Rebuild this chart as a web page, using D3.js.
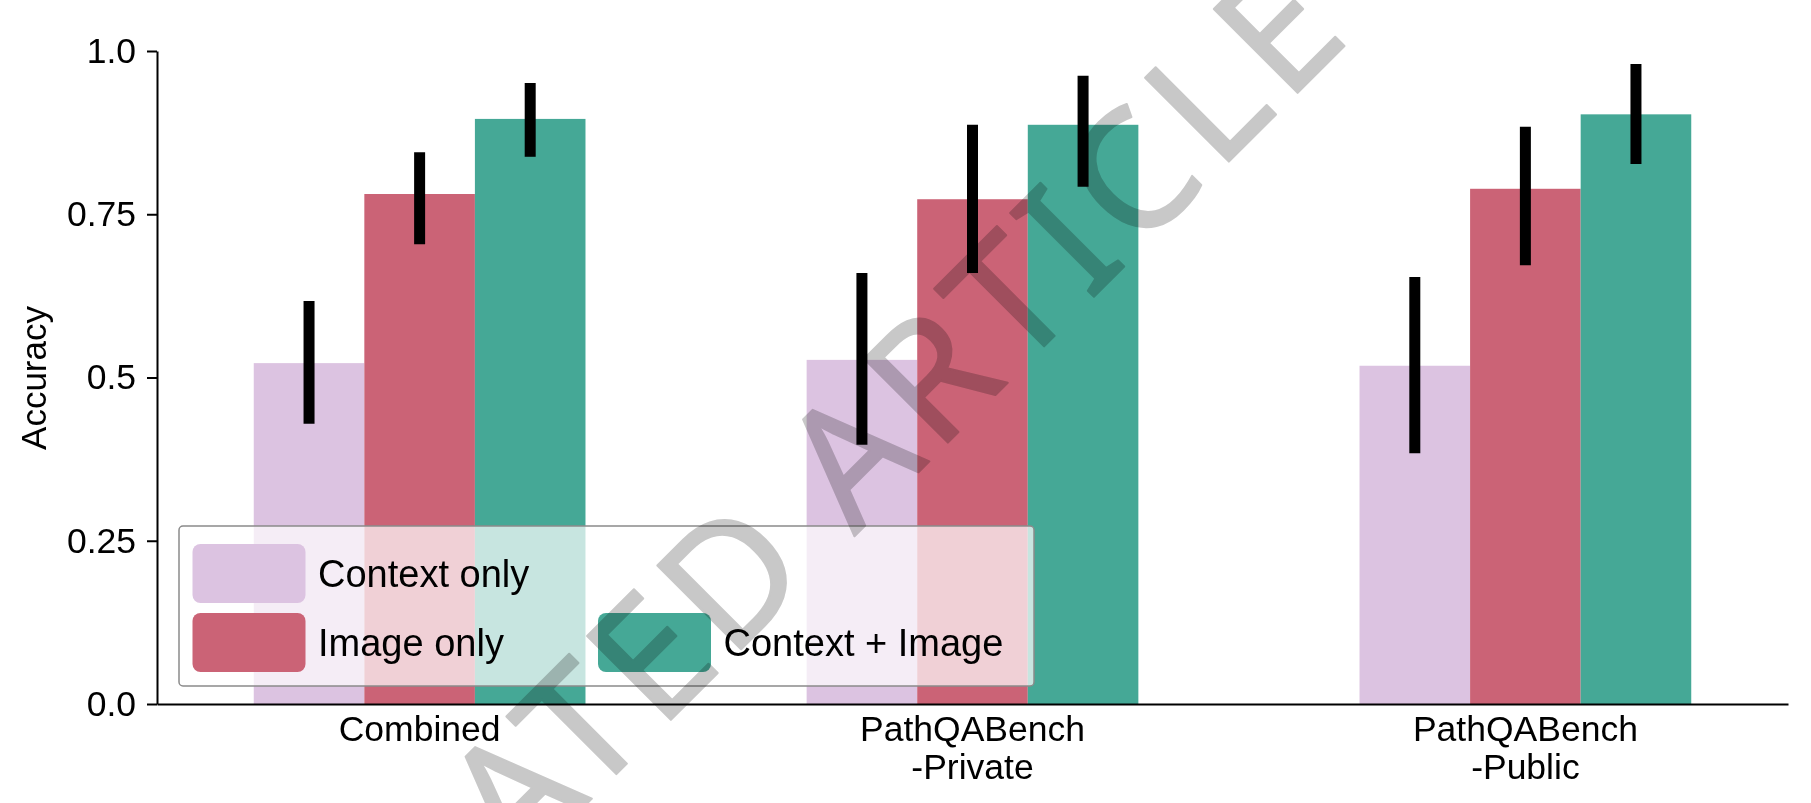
<!DOCTYPE html>
<html><head><meta charset="utf-8">
<script src="https://cdn.jsdelivr.net/npm/d3@7"></script>
<style>
body{margin:0;background:#fff;}
svg{display:block;font-family:"Liberation Sans",Arial,Helvetica,sans-serif;}
</style></head><body>
<svg id="chart" width="1811" height="803"></svg>
<script>
// ---- data ----
const categories = ["Combined", "PathQABench\n-Private", "PathQABench\n-Public"];
const series = ["Context only", "Image only", "Context + Image"];
const seriesColors = ["#dcc3e1", "#cb6376", "#45a896"];
const contextOnly = [0.522, 0.527, 0.518];
const contextOnlyLow = [0.429, 0.397, 0.384];
const contextOnlyHigh = [0.617, 0.660, 0.654];
const imageOnly = [0.781, 0.773, 0.789];
const imageOnlyLow = [0.704, 0.660, 0.672];
const imageOnlyHigh = [0.845, 0.887, 0.884];
const contextImage = [0.896, 0.887, 0.903];
const contextImageLow = [0.838, 0.792, 0.827];
const contextImageHigh = [0.951, 0.962, 0.980];
const yTicks = [0, 0.25, 0.5, 0.75, 1.0];
const yTickLabels = ["0.0", "0.25", "0.5", "0.75", "1.0"];
const yLabel = "Accuracy";
const watermarkWords = ["ACCELERATED", "ARTICLE", "PREVIEW"];

const values = [contextOnly, imageOnly, contextImage];
const lows = [contextOnlyLow, imageOnlyLow, contextImageLow];
const highs = [contextOnlyHigh, imageOnlyHigh, contextImageHigh];
const rows = [];
categories.forEach((c, ci) => series.forEach((s, si) => rows.push({
  cat: c, ser: s, si, v: values[si][ci], lo: lows[si][ci], hi: highs[si][ci]
})));

// ---- layout ----
const svg = d3.select("#chart");
svg.append("rect").attr("width", 1811).attr("height", 803).attr("fill", "#fff");

const x0 = d3.scaleBand().domain(categories).range([157, 1788]).paddingInner(0.4).paddingOuter(0.175);
const x1 = d3.scaleBand().domain(series).range([0, x0.bandwidth()]);
const y = d3.scaleLinear().domain([0, 1]).range([704, 51]);
const color = d3.scaleOrdinal().domain(series).range(seriesColors);

// bars
svg.append("g").selectAll("rect").data(rows).join("rect")
  .attr("x", d => x0(d.cat) + x1(d.ser))
  .attr("y", d => y(d.v))
  .attr("width", x1.bandwidth())
  .attr("height", d => y(0) - y(d.v))
  .attr("fill", d => color(d.ser));

// error bars
svg.append("g").selectAll("line").data(rows).join("line")
  .attr("x1", d => x0(d.cat) + x1(d.ser) + x1.bandwidth() / 2)
  .attr("x2", d => x0(d.cat) + x1(d.ser) + x1.bandwidth() / 2)
  .attr("y1", d => y(d.lo))
  .attr("y2", d => y(d.hi))
  .attr("stroke", "#000").attr("stroke-width", 11);

// y axis
const yAxis = svg.append("g").attr("transform", "translate(157,0)")
  .call(d3.axisLeft(y).tickValues(yTicks).tickFormat((d, i) => yTickLabels[i])
    .tickSize(10).tickSizeOuter(0).tickPadding(11));
yAxis.select(".domain").attr("stroke", "#000").attr("stroke-width", 2);
yAxis.selectAll(".tick line").attr("stroke", "#000").attr("stroke-width", 2);
yAxis.selectAll(".tick text").attr("font-size", 35.5).attr("fill", "#000")
  .attr("font-family", "Liberation Sans, Arial, sans-serif");

// x axis
const xAxis = svg.append("g").attr("transform", "translate(0,704)")
  .call(d3.axisBottom(x0).tickSize(0).tickSizeOuter(0).tickPadding(12));
xAxis.select(".domain").attr("stroke", "#000").attr("stroke-width", 2);
xAxis.selectAll(".tick text").each(function(d) {
  const t = d3.select(this);
  const lines = d.split("\n");
  t.text(null).attr("font-size", 35.5).attr("fill", "#000")
    .attr("font-family", "Liberation Sans, Arial, sans-serif");
  lines.forEach((ln, i) => t.append("tspan").attr("x", 0)
    .attr("dy", i === 0 ? "0.71em" : "38px").text(ln));
});

// y label
svg.append("text").attr("transform", "translate(33,378) rotate(-90)")
  .attr("text-anchor", "middle").attr("dominant-baseline", "central")
  .attr("font-size", 35).attr("fill", "#000").text(yLabel);

// legend
const lg = svg.append("g");
lg.append("rect").attr("x", 179).attr("y", 526).attr("width", 855).attr("height", 160)
  .attr("rx", 4).attr("fill", "#fff").attr("fill-opacity", 0.7)
  .attr("stroke", "#8a8a8a").attr("stroke-width", 1.5);
const legendPos = [[192.5, 544], [192.5, 613], [598, 613]];
series.forEach((s, i) => {
  const [lx, ly] = legendPos[i];
  lg.append("rect").attr("x", lx).attr("y", ly).attr("width", 113).attr("height", 59)
    .attr("rx", 8).attr("fill", color(s));
  lg.append("text").attr("x", lx + 125.5).attr("y", ly + 43)
    .attr("font-size", 38).attr("fill", "#000").text(s);
});

// watermark (diagonal, multiplied over the chart)
const wm = svg.append("g").attr("transform", "translate(696,696) rotate(-45)")
  .style("mix-blend-mode", "multiply");
const wmStart = [-987, 225, 978], wmLen = [1157, 703, 747];
watermarkWords.forEach((w, i) => {
  wm.append("text").attr("x", wmStart[i]).attr("y", -1)
    .attr("textLength", wmLen[i]).attr("lengthAdjust", "spacing")
    .attr("font-family", "Noto Sans, DejaVu Sans, sans-serif")
    .attr("font-size", 166).attr("fill", "#c8c8c8")
    .attr("stroke", "#c8c8c8").attr("stroke-width", 2).attr("stroke-linejoin", "round")
    .text(w);
});
</script>
</body></html>
